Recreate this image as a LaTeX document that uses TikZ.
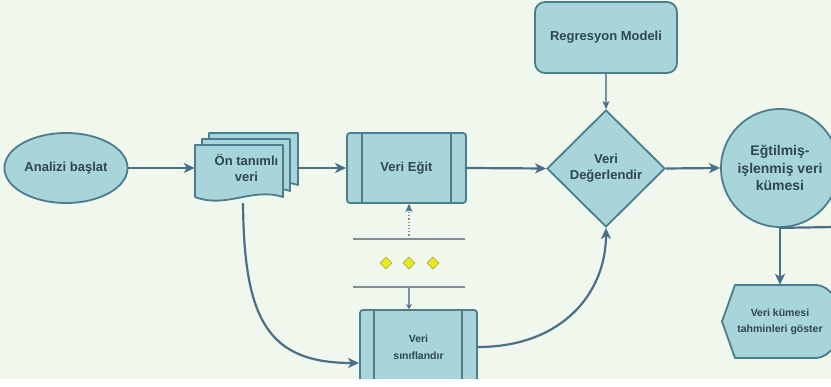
\documentclass[tikz,border=0pt]{standalone}
\usepackage{fontspec}
\setmainfont{Liberation Sans}
\usetikzlibrary{shapes.geometric,arrows.meta,calc}
\definecolor{bgc}{HTML}{F0F8EE}
\definecolor{fillc}{HTML}{A8D5DA}
\definecolor{bord}{HTML}{4C7D8C}
\definecolor{arrowc}{HTML}{4B6F87}
\definecolor{txt}{HTML}{2D4654}
\definecolor{sepc}{HTML}{7B939C}
\definecolor{dotc}{HTML}{E8EA1C}
\definecolor{dotb}{HTML}{B0B23E}
\newcommand\lblfont{\bfseries\fontsize{13}{16}\selectfont}
% one page of the stacked-document symbol: x, top y, width, height
\newcommand\docpage[4]{%
  \draw[pagesty] (#1,#2) -- (#1+#3,#2) -- (#1+#3,#2+#4-4)
    .. controls (#1+0.65*#3,#2+#4-14) and (#1+0.35*#3,#2+#4+8) .. (#1,#2+#4-4) -- cycle;}
\begin{document}
\begin{tikzpicture}[x=1pt,y=-1pt,
  shapebase/.style={draw=bord, fill=fillc, line width=1.8pt, text=txt, align=center,
    font=\lblfont, inner sep=2pt},
  pagesty/.style={draw=bord, fill=fillc, line width=1.8pt, line join=round},
  procbox/.style={shapebase, rectangle, rounded corners=3pt},
  innerbar/.style={draw=bord, line width=1.5pt},
  flow/.style={draw=arrowc, line width=2.2pt, -{Stealth[length=11pt,width=10pt,inset=3pt]}},
  thinflow/.style={draw=sepc, line width=1.2pt, -{Stealth[length=8pt,width=7pt,inset=2pt,color=arrowc,fill=arrowc]}},
  sepline/.style={draw=sepc, line width=1.6pt},
  ydot/.style={diamond, aspect=1, draw=dotb, fill=dotc, line width=0.8pt, minimum size=12pt, inner sep=0pt},
]
\useasboundingbox (0,0) rectangle (831,387);
\fill[bgc] (0,0) rectangle (831,387);

\begin{scope}
\clip (0,0) rectangle (831,379);

% start terminal
\node[shapebase, ellipse, minimum width=118pt, minimum height=70pt] (start) at (66,168) {Analizi başlat};

% stacked documents
\docpage{209}{133}{89}{56}
\docpage{202}{139}{88}{56}
\docpage{195}{145}{88}{56}
\node[align=center, text=txt, font=\lblfont, minimum width=103pt, minimum height=68pt, inner sep=0pt]
  (doc) at (246.5,168) {Ön tanımlı\\veri};

% training step
\node[procbox, minimum width=119pt, minimum height=70pt] (egit) at (406.5,168) {Veri Eğit};
\draw[innerbar] ($(egit.north west)+(16,0)$) -- ($(egit.south west)+(16,0)$);
\draw[innerbar] ($(egit.north east)+(-16,0)$) -- ($(egit.south east)+(-16,0)$);

% classification step
\node[procbox, minimum width=117pt, minimum height=74pt,
  font=\bfseries\fontsize{10.5}{17}\selectfont] (sinif) at (418.5,347) {Veri\\sınıflandır};
\draw[innerbar] ($(sinif.north west)+(15,0)$) -- ($(sinif.south west)+(15,0)$);
\draw[innerbar] ($(sinif.north east)+(-16,0)$) -- ($(sinif.south east)+(-16,0)$);

% separator with yellow markers
\node[minimum width=112pt, minimum height=48pt, inner sep=0pt] (sep) at (409,263) {};
\draw[sepline] (sep.north west) -- (sep.north east);
\draw[sepline] (sep.south west) -- (sep.south east);
\node[ydot] (d1) at (386,263) {};
\node[ydot] (d2) at (409,263) {};
\node[ydot] (d3) at (433,263) {};

% model
\node[shapebase, rectangle, rounded corners=10pt, minimum width=142pt, minimum height=71pt]
  (model) at (606,37.5) {Regresyon Modeli};

% evaluation decision
\node[shapebase, diamond, aspect=1, minimum width=118pt, minimum height=117pt, inner sep=1pt]
  (eval) at (606,168.5) {Veri\\Değerlendir};

% trained data set
\node[shapebase, circle, minimum size=118pt, inner sep=1pt,
  font=\bfseries\fontsize{14}{17.5}\selectfont] (kume) at (780,168) {Eğtilmiş-\\işlenmiş veri\\kümesi};

% display of predictions
\draw[pagesty] (735,285) -- (815,285) .. controls (848,285) and (848,358) .. (815,358)
  -- (735,358) -- (722,321.5) -- cycle;
\node[align=center, text=txt, font=\bfseries\fontsize{10.5}{16}\selectfont,
  minimum width=100pt, minimum height=73pt, inner sep=0pt] (goster) at (780,321.5)
  {Veri kümesi\\tahminleri göster};
\coordinate (offright) at (835,227);

% connectors
\draw[flow] (start.east) -- (doc.west);
\draw[flow] (doc.east) -- (egit.west);
\draw[flow] (egit.east) -- (eval.west);
\draw[flow] (eval.east) -- (kume.west);
\draw[thinflow] (model.south) -- (eval.north);
\draw[flow] ([xshift=-3.5pt,yshift=-1pt]doc.south) .. controls (244,320) and (268,363) .. ([yshift=-16pt]sinif.west);
\draw[flow] (sinif.east) .. controls (563,347) and (606,292) .. (eval.south);
\draw[thinflow, dotted] (sep.north) -- (sep.north |- egit.south);
\draw[sepc, line width=1.2pt, -{Stealth[length=5pt,width=6pt,color=arrowc,fill=arrowc]}] (sep.south) -- (sep.south |- sinif.north);
\draw[arrowc, line width=2.2pt] (kume.south) -- (offright);
\draw[flow] (kume.south) -- (kume.south |- goster.north);
\end{scope}

\fill[white] (0,379) rectangle (831,387);
\end{tikzpicture}
\end{document}
